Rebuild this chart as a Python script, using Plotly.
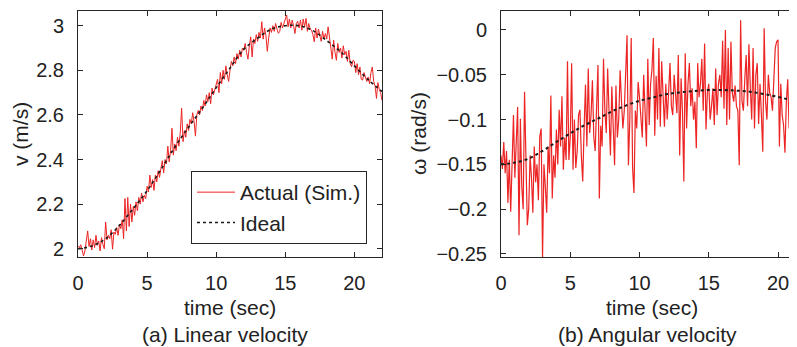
import plotly.graph_objects as go

# ---------------- data ----------------
# time base (s) for the simulated (actual) signals, 0.1 s steps
t_actual = [round(i * 0.1, 1) for i in range(221)]

# linear velocity v (m/s), actual (simulated)
v_actual = [
    2.012, 2.005, 2.018, 1.985, 1.968, 1.990, 2.030, 2.080, 2.010, 2.045,
    1.995, 2.040, 2.005, 2.060, 2.015, 2.035, 1.990, 2.050, 2.020, 2.000,
    2.120, 2.040, 2.060, 2.045, 2.085, 1.998, 2.075, 2.065, 2.095, 2.060,
    2.110, 2.090, 2.130, 2.045, 2.225, 2.080, 2.230, 2.100, 2.200, 2.120,
    2.190, 2.150, 2.210, 2.170, 2.230, 2.200, 2.250, 2.210, 2.240, 2.225,
    2.280, 2.255, 2.330, 2.275, 2.310, 2.262, 2.330, 2.300, 2.350, 2.320,
    2.360, 2.395, 2.340, 2.400, 2.380, 2.460, 2.390, 2.440, 2.540, 2.420,
    2.470, 2.440, 2.500, 2.460, 2.520, 2.630, 2.480, 2.530, 2.500, 2.560,
    2.530, 2.580, 2.560, 2.610, 2.570, 2.505, 2.600, 2.620, 2.600, 2.640,
    2.620, 2.665, 2.640, 2.690, 2.660, 2.700, 2.650, 2.720, 2.690, 2.710,
    2.730, 2.760, 2.700, 2.790, 2.740, 2.800, 2.760, 2.820, 2.780, 2.750,
    2.800, 2.840, 2.820, 2.860, 2.830, 2.875, 2.850, 2.890, 2.860, 2.900,
    2.890, 2.920, 2.880, 2.850, 2.910, 2.950, 2.860, 2.940, 2.920, 2.960,
    2.930, 2.970, 2.945, 3.018, 2.940, 2.990, 2.955, 2.885, 2.945, 2.990,
    2.970, 3.000, 2.975, 3.010, 2.985, 2.966, 2.975, 3.015, 2.990, 3.010,
    3.020, 3.048, 2.995, 3.030, 2.990, 3.025, 3.000, 2.965, 3.010, 3.020,
    2.990, 3.025, 2.980, 3.030, 2.995, 3.033, 2.975, 3.010, 2.985, 2.980,
    2.960, 2.928, 2.990, 2.945, 2.985, 2.955, 2.930, 2.975, 2.940, 2.965,
    2.940, 2.995, 2.930, 2.900, 2.850, 2.935, 2.880, 2.845, 2.920, 2.880,
    2.900, 2.855, 2.910, 2.870, 2.885, 2.840, 2.890, 2.830, 2.816, 2.845,
    2.840, 2.790, 2.830, 2.780, 2.815, 2.760, 2.756, 2.790, 2.770, 2.750,
    2.770, 2.740, 2.790, 2.815, 2.750, 2.730, 2.674, 2.745, 2.715, 2.700,
    2.665,
]

# angular velocity omega (rad/s), actual (simulated)
w_actual = [
    -0.140, -0.155, -0.125, -0.160, -0.135, -0.193, -0.145, -0.203, -0.150, -0.095,
    -0.165, -0.130, -0.086, -0.229, -0.099, -0.175, -0.200, -0.069, -0.160, -0.218,
    -0.200, -0.140, -0.165, -0.204, -0.130, -0.170, -0.150, -0.190, -0.119, -0.110,
    -0.254, -0.150, -0.175, -0.204, -0.130, -0.160, -0.073, -0.188, -0.140, -0.165,
    -0.111, -0.150, -0.089, -0.130, -0.074, -0.156, -0.120, -0.145, -0.035, -0.145,
    -0.120, -0.037, -0.156, -0.100, -0.154, -0.135, -0.095, -0.089, -0.140, -0.169,
    -0.110, -0.061, -0.130, -0.043, -0.115, -0.095, -0.056, -0.120, -0.135, -0.077,
    -0.039, -0.188, -0.107, -0.130, -0.032, -0.090, -0.115, -0.043, -0.100, -0.140,
    -0.063, -0.100, -0.151, -0.062, -0.120, -0.100, -0.045, -0.080, -0.110, -0.090,
    -0.050, -0.006, -0.151, -0.100, -0.009, -0.154, -0.182, -0.090, -0.110, -0.058,
    -0.075, -0.100, -0.120, -0.050, -0.090, -0.130, -0.032, -0.106, -0.060, -0.044,
    -0.009, -0.118, -0.051, -0.100, -0.020, -0.108, -0.035, -0.080, -0.108, -0.060,
    -0.100, -0.070, -0.037, -0.085, -0.095, -0.050, -0.075, -0.093, -0.028, -0.140,
    -0.054, -0.090, -0.169, -0.026, -0.110, -0.060, -0.037, -0.085, -0.065, -0.100,
    -0.080, -0.132, -0.037, -0.075, -0.060, -0.032, -0.090, -0.015, -0.111, -0.070,
    -0.060, -0.100, -0.085, -0.065, -0.106, -0.043, -0.095, -0.060, -0.050, -0.075,
    -0.012, -0.088, 0.000, -0.106, -0.020, -0.100, -0.013, -0.070, -0.080, -0.062,
    -0.085, -0.090, -0.151, 0.011, -0.080, -0.090, -0.055, -0.028, -0.085, -0.016,
    -0.065, -0.100, -0.020, -0.110, -0.050, -0.037, -0.105, -0.060, -0.095, -0.136,
    0.002, -0.080, -0.100, -0.050, -0.070, -0.075, -0.090, -0.055, -0.020, -0.013,
    -0.011, -0.130, -0.060, -0.095, -0.106, -0.137, -0.080, -0.055, -0.110, -0.058,
    -0.090, -0.134, -0.070, -0.100, -0.080, -0.120, -0.060, -0.095, -0.085, -0.110,
    -0.075,
]

# ideal references, 1 s steps
t_ideal = list(range(23))
v_ideal = [2.000, 2.012, 2.045, 2.105, 2.180, 2.260, 2.355, 2.455, 2.545, 2.630,
           2.722, 2.810, 2.895, 2.944, 2.985, 3.000, 3.000, 2.978, 2.933, 2.884,
           2.820, 2.758, 2.705]
w_ideal = [-0.150, -0.148, -0.1435, -0.135, -0.125, -0.1155, -0.1065, -0.099, -0.091,
           -0.0845, -0.079, -0.0752, -0.0715, -0.0695, -0.068, -0.067, -0.067,
           -0.0677, -0.069, -0.0715, -0.0747, -0.0785, -0.082]

x_ticks = [0, 5, 10, 15, 20]
v_ticks = [2, 2.2, 2.4, 2.6, 2.8, 3]
v_ticktext = ["2", "2.2", "2.4", "2.6", "2.8", "3"]
w_ticks = [0, -0.05, -0.1, -0.15, -0.2, -0.25]
w_ticktext = ["0", "\u22120.05", "\u22120.1", "\u22120.15", "\u22120.2", "\u22120.25"]

# ---------------- styling ----------------
# the page body adds an 8 px margin, so the figure is drawn 8 px smaller
OFF = 8
W, H = 797 - OFF, 347 - OFF
RED = "rgb(236,36,36)"
DOT = "#1a1a1a"
AX = "#262626"
FONT = "Liberation Sans, Arial, sans-serif"
FS_TICK = 20
FS_LAB = 21


def px_x(p):
    return (p - OFF) / W


def px_y(p):
    return 1 - (p - OFF) / H


fig = go.Figure()

fig.add_trace(go.Scatter(x=t_actual, y=v_actual, mode="lines", name="Actual (Sim.)",
                         line=dict(color=RED, width=1), xaxis="x", yaxis="y"))
fig.add_trace(go.Scatter(x=t_ideal, y=v_ideal, mode="lines", name="Ideal",
                         line=dict(color=DOT, width=1.6, dash="dot", shape="spline"),
                         xaxis="x", yaxis="y"))
fig.add_trace(go.Scatter(x=t_actual, y=w_actual, mode="lines", showlegend=False,
                         line=dict(color=RED, width=1.2), xaxis="x2", yaxis="y2"))
fig.add_trace(go.Scatter(x=t_ideal, y=w_ideal, mode="lines", showlegend=False,
                         line=dict(color=DOT, width=2, dash="dot", shape="spline"),
                         xaxis="x2", yaxis="y2"))

common_axis = dict(showgrid=False, zeroline=False, showline=True, linecolor=AX,
                   linewidth=1, ticks="inside", ticklen=5, tickcolor=AX,
                   automargin=False,
                   tickfont=dict(family=FONT, size=FS_TICK, color="#222"))

fig.update_layout(
    width=W, height=H, margin=dict(l=0, r=0, t=0, b=0),
    paper_bgcolor="white", plot_bgcolor="white",
    font=dict(family=FONT, size=FS_LAB, color="#222"),
    xaxis=dict(common_axis, domain=[px_x(78), px_x(382)], range=[0, 22],
               tickvals=x_ticks, mirror="allticks", anchor="y", ticklabelstandoff=8),
    yaxis=dict(common_axis, domain=[px_y(257), px_y(11)], range=[1.963, 3.066],
               tickvals=v_ticks, ticktext=v_ticktext, mirror="allticks", anchor="x",
               ticklabelstandoff=9),
    xaxis2=dict(common_axis, domain=[px_x(501), 1.0], range=[0, 21.37],
                tickvals=x_ticks, mirror="allticks", anchor="y2", ticklabelstandoff=8),
    yaxis2=dict(common_axis, domain=[px_y(257), px_y(11)], range=[-0.2534, 0.0212],
                tickvals=w_ticks, ticktext=w_ticktext, mirror=False, anchor="x2",
                ticklabelstandoff=9),
    legend=dict(x=px_x(191), y=px_y(171), xanchor="left", yanchor="top",
                bgcolor="white", bordercolor=AX, borderwidth=1,
                font=dict(family=FONT, size=FS_LAB, color="#222"),
                itemwidth=38, tracegroupgap=0),
    showlegend=True,
)

ann = [
    ("time (sec)", 230, 307, 0),
    ("(a) Linear velocity", 225, 334, 0),
    ("v (m/s)", 20, 134, -90),
    ("time (sec)", 652, 307, 0),
    ("(b) Angular velocity", 647, 334, 0),
    ("\u03c9 (rad/s)", 418, 134, -90),
]
for text, x, y, ang in ann:
    fig.add_annotation(text=text, x=px_x(x), y=px_y(y), xref="paper", yref="paper",
                       showarrow=False, textangle=ang, xanchor="center", yanchor="middle",
                       font=dict(family=FONT, size=FS_LAB, color="#222"))

fig.write_html("out.html")
